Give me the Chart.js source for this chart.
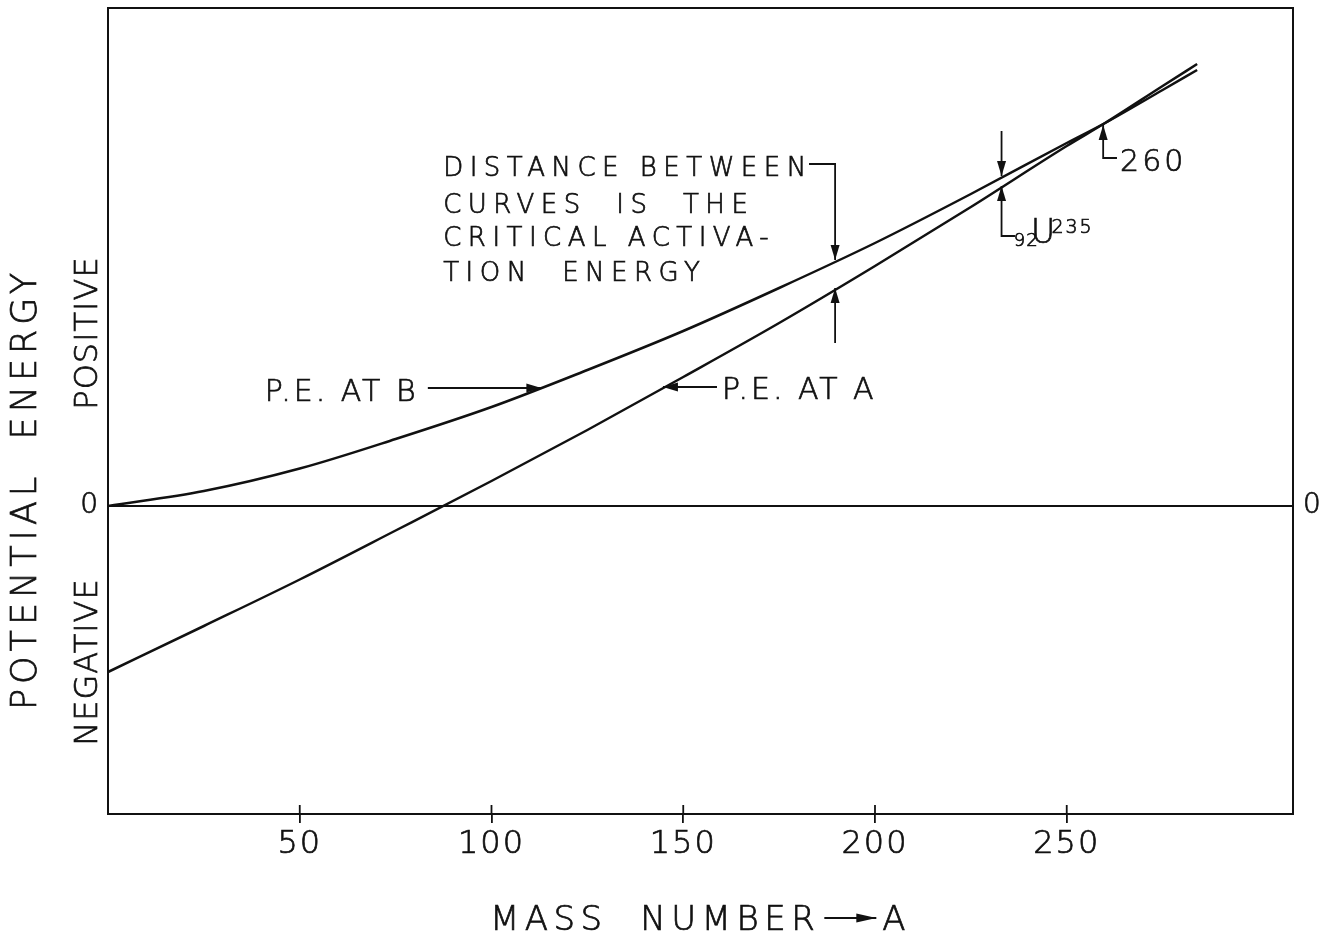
<!DOCTYPE html>
<html>
<head>
<meta charset="utf-8">
<script src="https://cdn.jsdelivr.net/npm/chart.js@4.4.1/dist/chart.umd.min.js"></script>
<style>
    html, body { margin: 0; padding: 0; background: #fff; }
    .chart-box { width: 1329px; height: 934px; }
</style>
</head>
<body>
<div class="chart-box"><canvas id="chartEnergy"></canvas></div>
<script>
// Data (arbitrary energy units, 0 = zero line)
const massNumbers = [0, 25, 50, 75, 100, 125, 150, 175, 200, 225, 250, 260, 275, 284];
const energyAtB = [0, 1.5, 3.75, 6.7, 9.9, 13.6, 17.5, 21.8, 26.3, 31.2, 36.3, 38.3, 41.6, 43.6];
const energyAtA = [-16.6, -12.0, -7.35, -2.45, 2.5, 7.6, 12.9, 18.3, 24.0, 29.9, 36.0, 38.3, 42.0, 44.2];
const massTicks = [50, 100, 150, 200, 250];
const energyTicks = [0];

const ink = "#111";
const lettering = (size) => `200 ${size}px "DejaVu Sans", sans-serif`;

const toPoints = (ys) => massNumbers.map((m, i) => ({ x: m, y: ys[i] }));

function drawArrow(ctx, pts, len = 15, half = 4.5) {
    ctx.beginPath();
    ctx.moveTo(pts[0][0], pts[0][1]);
    for (let i = 1; i < pts.length; i++) ctx.lineTo(pts[i][0], pts[i][1]);
    ctx.stroke();
    const [x1, y1] = pts[pts.length - 2];
    const [x2, y2] = pts[pts.length - 1];
    const ang = Math.atan2(y2 - y1, x2 - x1);
    const c = Math.cos(ang), s = Math.sin(ang);
    ctx.beginPath();
    ctx.moveTo(x2, y2);
    ctx.lineTo(x2 - len * c - half * s, y2 - len * s + half * c);
    ctx.lineTo(x2 - len * c + half * s, y2 - len * s - half * c);
    ctx.closePath();
    ctx.fill();
}

function write(ctx, str, x, y, size, spacing) {
    ctx.font = lettering(size);
    ctx.letterSpacing = spacing + "px";
    const lw = ctx.lineWidth;
    ctx.lineWidth = 0.7;
    ctx.strokeText(str, x, y);
    ctx.fillText(str, x, y);
    ctx.lineWidth = lw;
}

// letter spacing for the axis tick labels
const spacing = {
    id: "spacing",
    beforeDraw(chart) {
        chart.ctx.letterSpacing = "2px";
    }
};

// Notes, arrows and axis titles
const notes = {
    id: "notes",
    afterDraw(chart) {
        const { ctx, chartArea } = chart;
        const X = (v) => chart.scales.x.getPixelForValue(v);
        const Y = (v) => chart.scales.y.getPixelForValue(v);
        ctx.save();
        ctx.fillStyle = ink;
        ctx.strokeStyle = ink;
        ctx.lineWidth = 1.8;
        ctx.textBaseline = "alphabetic";
        ctx.textAlign = "left";

        // inner half of the x tick marks
        massTicks.forEach(m => {
            ctx.beginPath();
            ctx.moveTo(X(m), chartArea.bottom);
            ctx.lineTo(X(m), chartArea.bottom - 9);
            ctx.stroke();
        });

        // text block
        const block = ["DISTANCE BETWEEN", "CURVES  IS  THE", "CRITICAL ACTIVA-", "TION  ENERGY"];
        const blockY = [33.0, 29.3, 26.0, 22.5];
        block.forEach((s, i) => write(ctx, s, X(87.4), Y(blockY[i]), 26, 6.5));
        drawArrow(ctx, [[X(182.8), Y(34.2)], [X(189.6), Y(34.2)], [X(189.6), Y(24.6)]]);
        drawArrow(ctx, [[X(189.6), Y(16.3)], [X(189.6), Y(21.8)]]);

        // P.E. labels
        write(ctx, "P.E. AT B", X(40.9), Y(10.5), 30, 3);
        drawArrow(ctx, [[X(83.4), Y(11.8)], [X(113), Y(11.8)]]);
        write(ctx, "P.E. AT A", X(160.1), Y(10.7), 30, 3);
        drawArrow(ctx, [[X(158.8), Y(11.9)], [X(144.7), Y(11.9)]]);

        // 92U235
        drawArrow(ctx, [[X(233), Y(37.5)], [X(233), Y(33.0)]]);
        drawArrow(ctx, [[X(236.5), Y(27.0)], [X(233), Y(27.0)], [X(233), Y(32.0)]]);
        write(ctx, "92", X(236.2), Y(26.0), 18, 1);
        write(ctx, "U", X(240.7), Y(26.3), 33, 1);
        write(ctx, "235", X(246), Y(27.3), 19, 2);

        // 260
        drawArrow(ctx, [[X(263.1), Y(34.8)], [X(259.5), Y(34.8)], [X(259.5), Y(38.1)]]);
        write(ctx, "260", X(263.9), Y(33.5), 30, 3);

        // y axis titles
        ctx.textAlign = "center";
        const vertical = (str, x, y, size, sp) => {
            ctx.save();
            ctx.translate(x, y);
            ctx.rotate(-Math.PI / 2);
            write(ctx, str, 0, 0, size, sp);
            ctx.restore();
        };
        vertical("POTENTIAL  ENERGY", chartArea.left - 72, Y(1.7), 35, 5);
        vertical("POSITIVE", chartArea.left - 11, Y(17.3), 32, 1);
        vertical("NEGATIVE", chartArea.left - 11, Y(-15.6), 32, 1);

        // x axis title
        ctx.textAlign = "left";
        ctx.font = lettering(34);
        ctx.letterSpacing = "5.5px";
        const words = "MASS  NUMBER";
        const wWords = ctx.measureText(words).width;
        const wA = ctx.measureText("A").width;
        const arrowLen = 52;
        const total = wWords + 4 + arrowLen + 6 + wA;
        const x0 = (chartArea.left + chartArea.right) / 2 - total / 2;
        const base = chart.height - 4;
        write(ctx, words, x0, base, 34, 5.5);
        drawArrow(ctx, [[x0 + wWords + 4, base - 12], [x0 + wWords + 4 + arrowLen, base - 12]], 20, 4.5);
        write(ctx, "A", x0 + wWords + 10 + arrowLen, base, 34, 5.5);

        ctx.restore();
    }
};

const chartEnergy = document.querySelector("#chartEnergy");
if (chartEnergy) {
    const tickFont = { family: "DejaVu Sans", size: 32, weight: "200" };
    const zeroFont = { family: "DejaVu Sans", size: 28, weight: "200" };
    const noPad = (scale) => {
        scale.paddingTop = 0;
        scale.paddingBottom = 0;
        scale.paddingLeft = 0;
        scale.paddingRight = 0;
    };
    new Chart(chartEnergy, {
        type: "line",
        data: {
            datasets: [
                {
                    label: "P.E. AT B",
                    data: toPoints(energyAtB),
                    borderColor: ink,
                    borderWidth: 2.5,
                    pointRadius: 0,
                    cubicInterpolationMode: "monotone"
                },
                {
                    label: "P.E. AT A",
                    data: toPoints(energyAtA),
                    borderColor: ink,
                    borderWidth: 2.5,
                    pointRadius: 0,
                    cubicInterpolationMode: "monotone"
                }
            ]
        },
        options: {
            responsive: true,
            maintainAspectRatio: false,
            animation: false,
            layout: { padding: 0 },
            plugins: {
                legend: { display: false },
                tooltip: { enabled: false }
            },
            scales: {
                x: {
                    type: "linear",
                    position: "bottom",
                    min: 0,
                    max: 309,
                    afterBuildTicks: (scale) => { scale.ticks = massTicks.map(v => ({ value: v })); },
                    afterFit: (scale) => { scale.height = 120; noPad(scale); },
                    ticks: { font: tickFont, color: ink, padding: 2, maxRotation: 0, textStrokeColor: ink, textStrokeWidth: 0.7 },
                    grid: { drawOnChartArea: false, drawTicks: true, tickLength: 9, color: ink, lineWidth: 1.8 },
                    border: { display: true, color: ink, width: 2 }
                },
                x2: {
                    type: "linear",
                    position: "top",
                    min: 0,
                    max: 309,
                    afterFit: (scale) => { scale.height = 8; noPad(scale); },
                    ticks: { display: false },
                    grid: { display: false },
                    border: { display: true, color: ink, width: 2 }
                },
                y: {
                    type: "linear",
                    position: "left",
                    min: -30.8,
                    max: 49.8,
                    afterBuildTicks: (scale) => { scale.ticks = energyTicks.map(v => ({ value: v })); },
                    afterFit: (scale) => { scale.width = 108; noPad(scale); },
                    ticks: { font: zeroFont, color: ink, padding: 8, textStrokeColor: ink, textStrokeWidth: 0.7 },
                    grid: { drawTicks: false, color: ink, lineWidth: 2 },
                    border: { display: true, color: ink, width: 2 }
                },
                y2: {
                    type: "linear",
                    position: "right",
                    min: -30.8,
                    max: 49.8,
                    afterBuildTicks: (scale) => { scale.ticks = energyTicks.map(v => ({ value: v })); },
                    afterFit: (scale) => { scale.width = 36; noPad(scale); },
                    ticks: { font: zeroFont, color: ink, padding: 2, textStrokeColor: ink, textStrokeWidth: 0.7 },
                    grid: { display: false },
                    border: { display: true, color: ink, width: 2 }
                }
            }
        },
        plugins: [spacing, notes]
    });
}
</script>
</body>
</html>
